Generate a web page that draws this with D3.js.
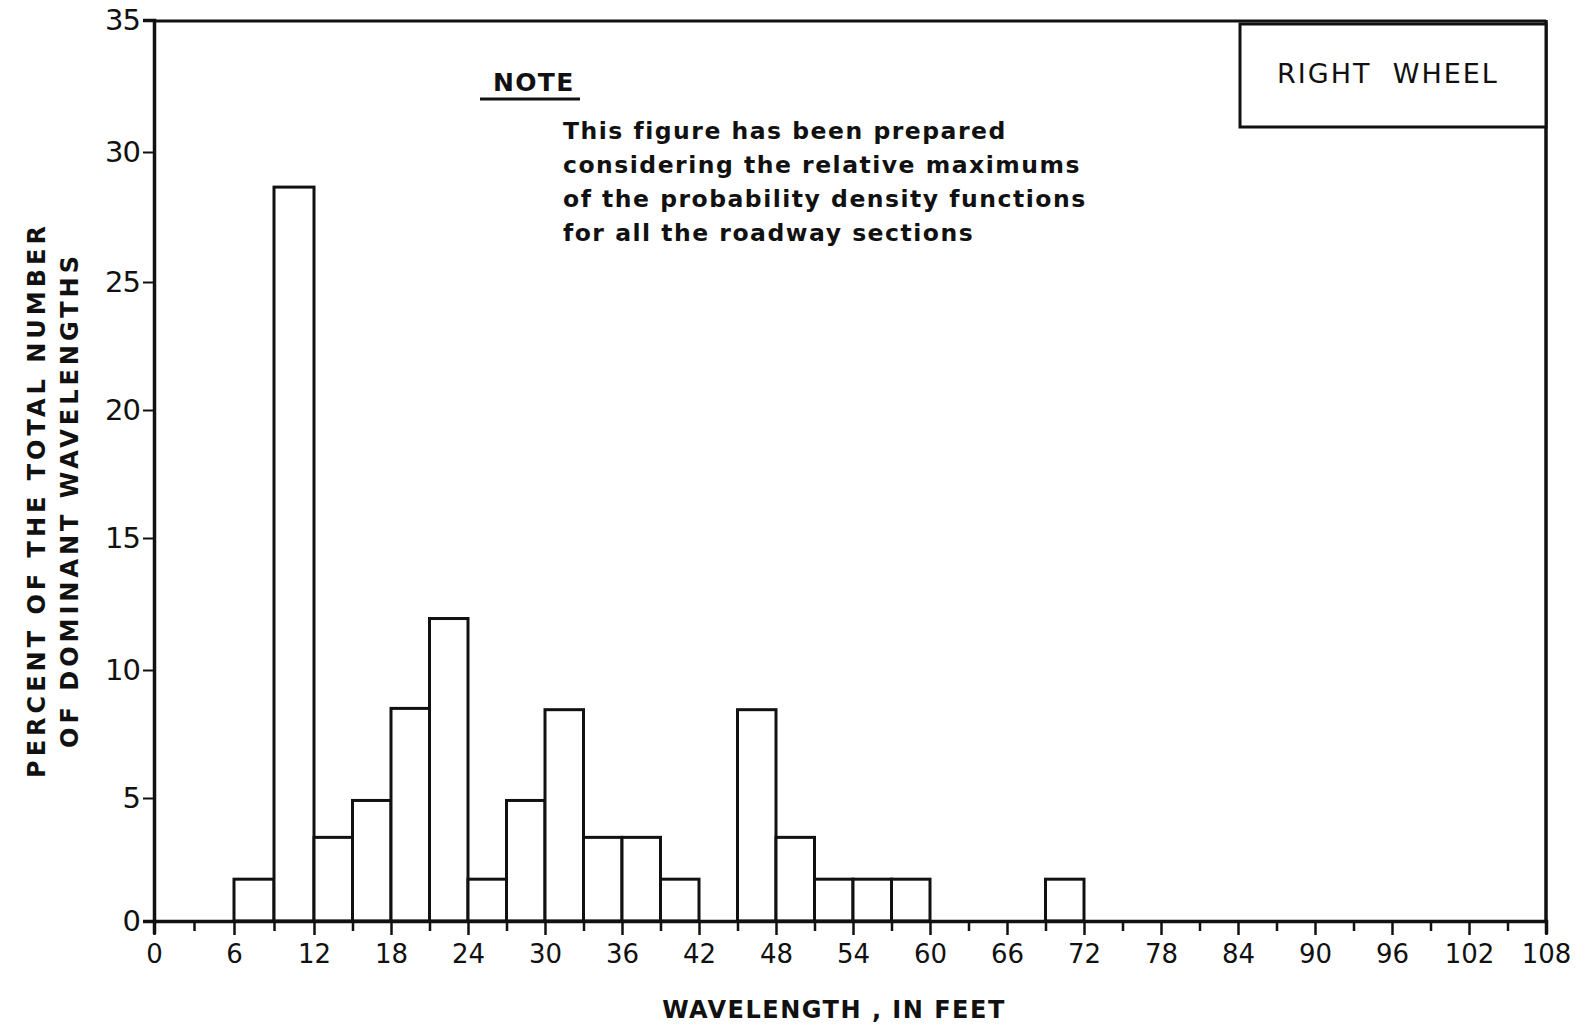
<!DOCTYPE html>
<html>
<head>
<meta charset="utf-8">
<script src="https://cdn.jsdelivr.net/npm/d3@7"></script>
<style>
  body { margin: 0; background: #fff; }
  svg { display: block; }
  text { font-family: "DejaVu Sans", "Noto Sans", sans-serif; fill: #111; }
  .axis path, .axis line { stroke: #111; }
</style>
</head>
<body>
<svg id="chart"></svg>
<script>
// bin start (ft), each bin is 3 ft wide
var binStarts = [6, 9, 12, 15, 18, 21, 24, 27, 30, 33, 36, 39, 45, 48, 51, 54, 57, 69];
// percent of the total number of dominant wavelengths
var percents = [1.7, 28.65, 3.4, 4.9, 8.5, 11.95, 1.7, 4.9, 8.45, 3.4, 3.4, 1.7, 8.45, 3.4, 1.7, 1.7, 1.7, 1.7];
var binWidth = 3;

var xTicks = d3.range(0, 109, 3);
var yTicks = [0, 5, 10, 15, 20, 25, 30, 35];

var noteTitle = "NOTE";
var noteLines = [
    "This figure has been prepared",
    "considering the relative maximums",
    "of the probability density functions",
    "for all the roadway sections"
];
var boxLabel = "RIGHT  WHEEL";
var xTitle = "WAVELENGTH , IN FEET";
var yTitle = ["PERCENT OF THE TOTAL NUMBER", "OF DOMINANT WAVELENGTHS"];

var width = 1581, height = 1036;
var plotLeft = 154, plotRight = 1546, plotTop = 20, plotBottom = 921;

var svg = d3.select("#chart")
    .attr("width", width)
    .attr("height", height);

// the original is hand drafted, so the axes are not quite even
var x = d3.scaleLinear().domain([0, 6, 12, 108]).range([plotLeft, 234, 314, plotRight]);
var y = d3.scaleLinear().domain(yTicks).range([plotBottom, 798, 670, 538, 410, 282, 152, plotTop]);

// frame top + right
svg.append("line")
    .attr("x1", plotLeft).attr("x2", plotRight)
    .attr("y1", plotTop + 1).attr("y2", plotTop + 1)
    .attr("stroke", "#111").attr("stroke-width", 3);
svg.append("line")
    .attr("x1", plotRight).attr("x2", plotRight)
    .attr("y1", plotTop).attr("y2", plotBottom)
    .attr("stroke", "#111").attr("stroke-width", 3.5);

// bars
svg.selectAll("rect.bar")
    .data(binStarts)
    .enter()
    .append("rect")
    .attr("class", "bar")
    .attr("x", function (d) { return x(d); })
    .attr("width", function (d) { return x(d + binWidth) - x(d); })
    .attr("y", function (d, i) { return y(percents[i]); })
    .attr("height", function (d, i) { return y(0) - y(percents[i]); })
    .attr("fill", "#fff")
    .attr("stroke", "#111")
    .attr("stroke-width", 3);

// x axis
var xAxis = d3.axisBottom(x)
    .tickValues(xTicks)
    .tickSize(13)
    .tickPadding(7)
    .tickFormat(function (d) { return d % 6 === 0 ? d : ""; });
var gx = svg.append("g")
    .attr("class", "axis")
    .attr("transform", "translate(0," + plotBottom + ")")
    .call(xAxis);
gx.select(".domain").attr("stroke-width", 3.5);
gx.selectAll(".tick line").attr("stroke-width", 2.5)
    .attr("y2", function (d) { return d % 6 === 0 ? 14 : 10; });
gx.selectAll(".tick text")
    .attr("font-size", 26)
    .attr("dy", "0.85em");

// y axis
var yAxis = d3.axisLeft(y)
    .tickValues(yTicks)
    .tickSize(11)
    .tickPadding(3);
var gy = svg.append("g")
    .attr("class", "axis")
    .attr("transform", "translate(" + plotLeft + ",0)")
    .call(yAxis);
gy.select(".domain").attr("stroke-width", 3.5);
gy.selectAll(".tick line").attr("stroke-width", 2);
gy.selectAll(".tick text").attr("font-size", 29).attr("letter-spacing", -1);

// note
svg.append("text")
    .attr("x", 493).attr("y", 91)
    .attr("font-size", 25).attr("font-weight", "bold")
    .attr("letter-spacing", 1.3)
    .text(noteTitle);
svg.append("line")
    .attr("x1", 480).attr("x2", 580)
    .attr("y1", 99).attr("y2", 99)
    .attr("stroke", "#111").attr("stroke-width", 3);
svg.selectAll("text.note")
    .data(noteLines)
    .enter()
    .append("text")
    .attr("class", "note")
    .attr("x", 563)
    .attr("y", function (d, i) { return 139 + i * 34; })
    .attr("font-size", 23.5).attr("font-weight", "bold")
    .attr("letter-spacing", 1.5)
    .text(function (d) { return d; });

// right wheel box
svg.append("rect")
    .attr("x", 1240).attr("y", 24)
    .attr("width", plotRight - 1240).attr("height", 103)
    .attr("fill", "#fff").attr("stroke", "#111").attr("stroke-width", 3);
svg.append("text")
    .attr("x", 1388).attr("y", 83)
    .attr("text-anchor", "middle")
    .attr("font-size", 27).attr("letter-spacing", 2)
    .style("white-space", "pre")
    .text(boxLabel);

// axis titles
svg.append("text")
    .attr("x", 834).attr("y", 1018)
    .attr("text-anchor", "middle")
    .attr("font-size", 24).attr("font-weight", "bold")
    .attr("letter-spacing", 1.5)
    .text(xTitle);

svg.selectAll("text.ytitle")
    .data(yTitle)
    .enter()
    .append("text")
    .attr("class", "ytitle")
    .attr("transform", function (d, i) {
        return "translate(" + (45 + i * 33) + ",500) rotate(-90)";
    })
    .attr("text-anchor", "middle")
    .attr("font-size", 24).attr("font-weight", "bold")
    .attr("letter-spacing", 4)
    .text(function (d) { return d; });
</script>
</body>
</html>
